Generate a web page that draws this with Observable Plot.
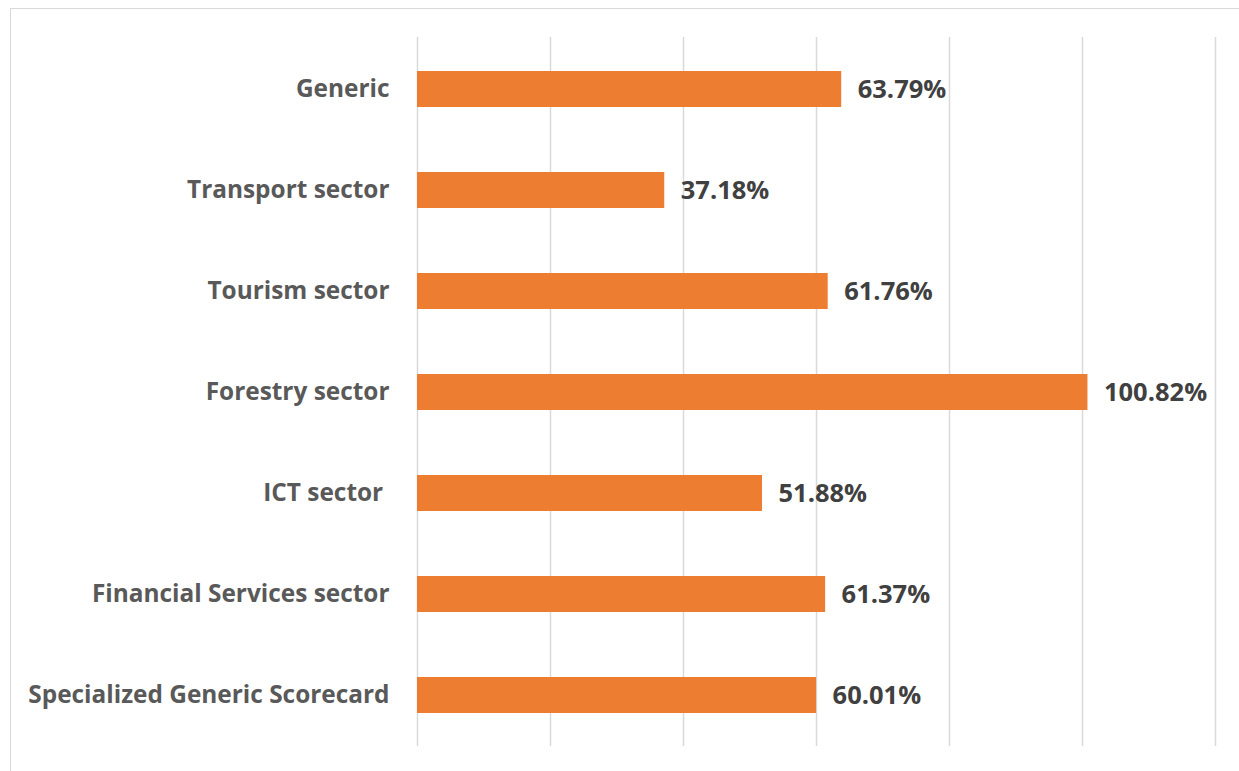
<!DOCTYPE html>
<html>
<head>
<meta charset="utf-8">
<script src="https://cdn.jsdelivr.net/npm/d3@7"></script>
<script src="https://cdn.jsdelivr.net/npm/@observablehq/plot@0.6"></script>
<style>
  html, body { margin: 0; padding: 0; background: #fff; }
  #wrap { position: relative; width: 1239px; height: 771px; overflow: hidden; }
  #frame { position: absolute; left: 10px; top: 8px; width: 1260px; height: 800px; border: 1px solid #d9d9d9; box-sizing: border-box; pointer-events: none; }
  svg text { font-family: "Open Sans", sans-serif; }
</style>
</head>
<body>
<div id="wrap"><div id="frame"></div></div>
<script>
const categories = ["Generic", "Transport sector", "Tourism sector", "Forestry sector", "ICT sector ", "Financial Services sector", "Specialized Generic Scorecard"];
const values = [63.79, 37.18, 61.76, 100.82, 51.88, 61.37, 60.01];
const xTicks = [0, 20, 40, 60, 80, 100, 120];

const data = categories.map((c, i) => ({category: c, value: values[i]}));

const chart = Plot.plot({
  width: 1239,
  height: 771,
  marginLeft: 417,
  marginRight: 24,
  marginTop: 37,
  marginBottom: 25,
  style: {background: "transparent", fontFamily: "Open Sans, sans-serif"},
  x: {domain: [0, 120], axis: null},
  y: {domain: categories, paddingInner: 0.645, paddingOuter: 0.3225, axis: null},
  marks: [
    Plot.ruleX(xTicks, {stroke: "#d9d9d9", strokeWidth: 1.5}),
    Plot.barX(data, {x: "value", y: "category", fill: "#ed7d31"}),
    Plot.text(data, {x: 0, y: "category", text: "category", textAnchor: "end", dx: -28, fontSize: 24.4, fontWeight: "bold", fill: "#595959"}),
    Plot.text(data, {x: "value", y: "category", text: d => d.value.toFixed(2) + "%", textAnchor: "start", dx: 16, fontSize: 25.5, fontWeight: "bold", fill: "#404040"})
  ]
});
chart.style.position = "absolute";
chart.style.left = "0px";
chart.style.top = "0px";
chart.querySelectorAll("text").forEach(t => t.setAttribute("style", (t.getAttribute("style")||"") + ";white-space:pre"));
document.getElementById("wrap").appendChild(chart);
</script>
</body>
</html>
